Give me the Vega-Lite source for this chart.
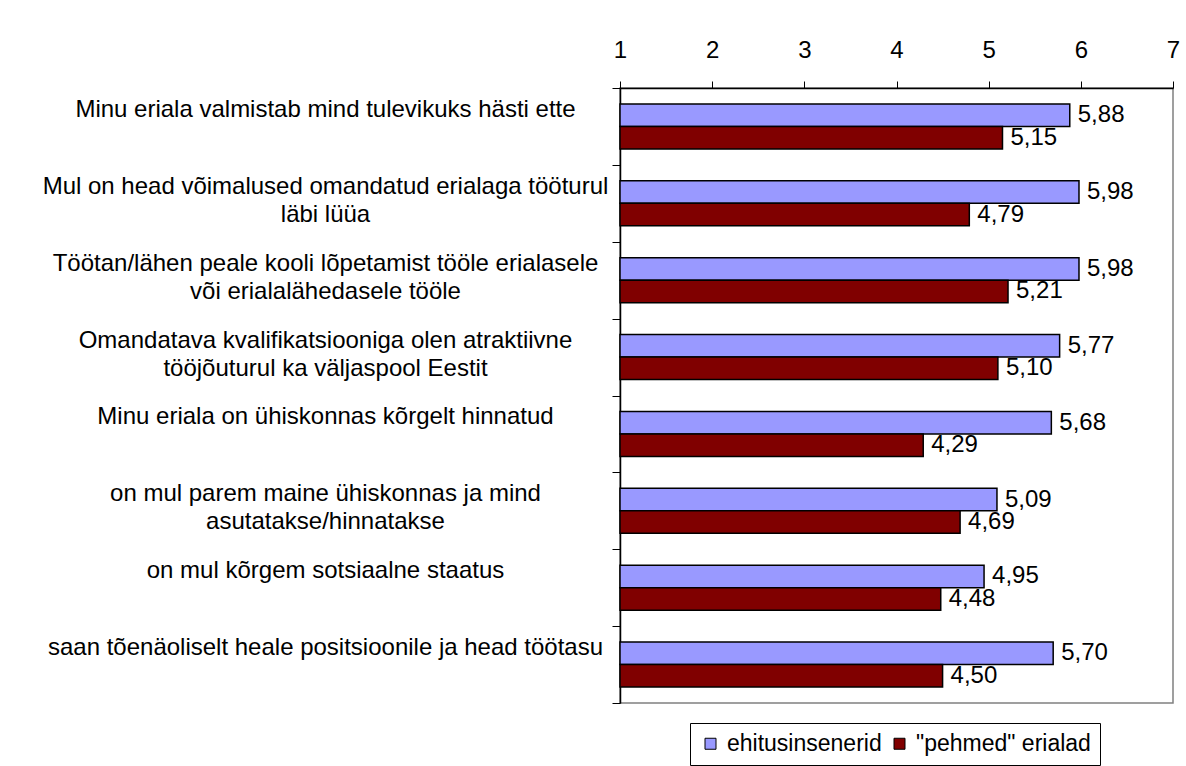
{
  "$schema": "https://vega.github.io/schema/vega-lite/v6.json",
  "width": 553,
  "height": 615,
  "autosize": {"type": "none"},
  "padding": {"left": 620, "top": 88, "right": 13, "bottom": 63},
  "background": "white",
  "config": {
    "font": "Liberation Sans",
    "locale": {"number": {"decimal": ",", "thousands": " ", "grouping": [3], "currency": ["", " €"]}},
    "view": {"stroke": "#808080", "strokeWidth": 1.5},
    "axis": {"labelColor": "black", "labelFont": "Liberation Sans", "labelFontSize": 24, "domainColor": "black", "domainWidth": 1.5, "tickColor": "black", "grid": false, "title": null}
  },
  "data": {
    "values": [
      {"statement": "Minu eriala valmistab mind tulevikuks hästi ette", "group": "ehitusinsenerid", "value": 5.88},
      {"statement": "Minu eriala valmistab mind tulevikuks hästi ette", "group": "\"pehmed\" erialad", "value": 5.15},
      {"statement": "Mul on head võimalused omandatud erialaga tööturul\nläbi lüüa", "group": "ehitusinsenerid", "value": 5.98},
      {"statement": "Mul on head võimalused omandatud erialaga tööturul\nläbi lüüa", "group": "\"pehmed\" erialad", "value": 4.79},
      {"statement": "Töötan/lähen peale kooli lõpetamist tööle erialasele\nvõi erialalähedasele tööle", "group": "ehitusinsenerid", "value": 5.98},
      {"statement": "Töötan/lähen peale kooli lõpetamist tööle erialasele\nvõi erialalähedasele tööle", "group": "\"pehmed\" erialad", "value": 5.21},
      {"statement": "Omandatava kvalifikatsiooniga olen atraktiivne\ntööjõuturul ka väljaspool Eestit", "group": "ehitusinsenerid", "value": 5.77},
      {"statement": "Omandatava kvalifikatsiooniga olen atraktiivne\ntööjõuturul ka väljaspool Eestit", "group": "\"pehmed\" erialad", "value": 5.10},
      {"statement": "Minu eriala on ühiskonnas kõrgelt hinnatud", "group": "ehitusinsenerid", "value": 5.68},
      {"statement": "Minu eriala on ühiskonnas kõrgelt hinnatud", "group": "\"pehmed\" erialad", "value": 4.29},
      {"statement": "on mul parem maine ühiskonnas ja mind\nasutatakse/hinnatakse", "group": "ehitusinsenerid", "value": 5.09},
      {"statement": "on mul parem maine ühiskonnas ja mind\nasutatakse/hinnatakse", "group": "\"pehmed\" erialad", "value": 4.69},
      {"statement": "on mul kõrgem sotsiaalne staatus", "group": "ehitusinsenerid", "value": 4.95},
      {"statement": "on mul kõrgem sotsiaalne staatus", "group": "\"pehmed\" erialad", "value": 4.48},
      {"statement": "saan tõenäoliselt heale positsioonile ja head  töötasu", "group": "ehitusinsenerid", "value": 5.70},
      {"statement": "saan tõenäoliselt heale positsioonile ja head  töötasu", "group": "\"pehmed\" erialad", "value": 4.50}
    ]
  },
  "encoding": {
    "y": {
      "field": "statement",
      "type": "nominal",
      "sort": null,
      "scale": {"paddingInner": 0, "paddingOuter": 0},
      "axis": {
        "orient": "left",
        "tickBand": "extent",
        "tickSize": 8,
        "labelAlign": "center",
        "labelBaseline": "middle",
        "labelPadding": 287,
        "labelOffset": -17,
        "labelLimit": 0,
        "labelLineHeight": 28,
        "labelExpr": "isString(datum.value) ? split(datum.value, '\\n') : ''"
      }
    },
    "yOffset": {
      "field": "group",
      "type": "nominal",
      "sort": ["ehitusinsenerid", "\"pehmed\" erialad"],
      "scale": {"paddingInner": 0, "paddingOuter": 0.708}
    },
    "x": {
      "field": "value",
      "type": "quantitative",
      "scale": {"domain": [1, 7], "nice": false, "zero": false},
      "axis": {"orient": "top", "values": [1, 2, 3, 4, 5, 6, 7], "format": "d", "tickSize": 7, "labelPadding": 19, "labelFlush": false}
    }
  },
  "layer": [
    {
      "mark": {"type": "bar", "stroke": "black", "strokeWidth": 1.5},
      "encoding": {
        "x2": {"datum": 1},
        "color": {
          "field": "group",
          "type": "nominal",
          "scale": {"domain": ["ehitusinsenerid", "\"pehmed\" erialad"], "range": ["#9999FF", "#800000"]},
          "legend": {
            "orient": "none",
            "legendX": 70,
            "legendY": 635,
            "direction": "horizontal",
            "title": null,
            "strokeColor": "black",
            "fillColor": "white",
            "padding": 9,
            "symbolType": "square",
            "symbolSize": 121,
            "symbolStrokeColor": "black",
            "symbolStrokeWidth": 1,
            "labelFontSize": 23,
            "labelColor": "black",
            "labelLimit": 0,
            "labelOffset": 5,
            "columnPadding": 6
          }
        }
      }
    },
    {
      "mark": {"type": "text", "align": "left", "baseline": "middle", "dx": 8, "fontSize": 24, "color": "black"},
      "encoding": {
        "text": {"field": "value", "type": "quantitative", "format": ".2f"}
      }
    }
  ]
}
